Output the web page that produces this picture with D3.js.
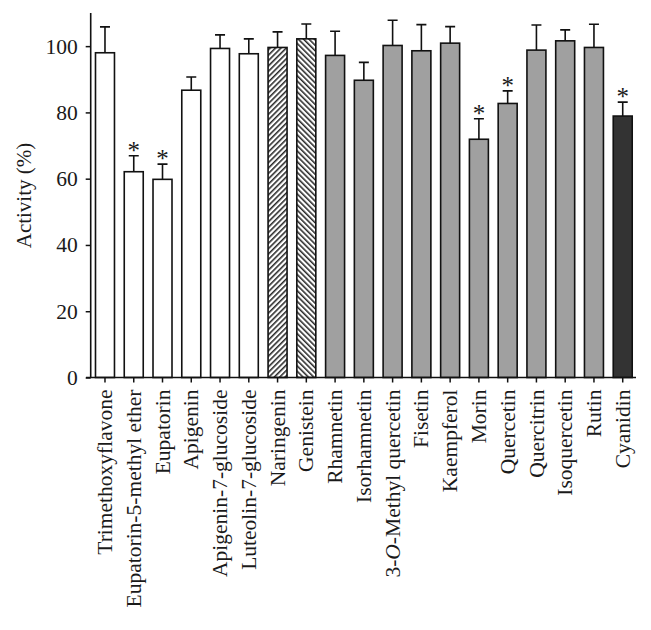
<!DOCTYPE html>
<html>
<head>
<meta charset="utf-8">
<script src="https://cdn.jsdelivr.net/npm/d3@7"></script>
<style>
  html, body { margin: 0; padding: 0; background: #fff; }
  svg { display: block; }
  text { font-family: "Liberation Serif", "DejaVu Serif", serif; fill: #1a1a1a; }
</style>
</head>
<body>
<svg id="chart" width="651" height="630"></svg>
<script>
const categories = ["Trimethoxyflavone", "Eupatorin-5-methyl ether", "Eupatorin", "Apigenin",
  "Apigenin-7-glucoside", "Luteolin-7-glucoside", "Naringenin", "Genistein", "Rhamnetin",
  "Isorhamnetin", "3-O-Methyl quercetin", "Fisetin", "Kaempferol", "Morin", "Quercetin",
  "Quercitrin", "Isoquercetin", "Rutin", "Cyanidin"];
const values = [98.0, 62.1, 59.8, 86.7, 99.3, 97.7, 99.6, 102.2, 97.2, 89.7, 100.2, 98.6,
  100.9, 71.9, 82.7, 98.8, 101.6, 99.6, 78.9];
const errors = [7.8, 4.8, 4.6, 4.0, 4.1, 4.5, 4.7, 4.5, 7.3, 5.4, 7.6, 7.9, 5.0, 6.2, 3.8,
  7.6, 3.3, 7.0, 4.2];
const significant = [false, true, true, false, false, false, false, false, false, false,
  false, false, false, true, true, false, false, false, true];
const groups = ["white", "white", "white", "white", "white", "white", "hatchA", "hatchB",
  "gray", "gray", "gray", "gray", "gray", "gray", "gray", "gray", "gray", "gray", "dark"];
const yTicks = [0, 20, 40, 60, 80, 100];
const yLabel = "Activity (%)";

const svg = d3.select("#chart");
const defs = svg.append("defs");

function hatch(id, dir) {
  const s = 3.8;
  const p = defs.append("pattern").attr("id", id).attr("patternUnits", "userSpaceOnUse")
    .attr("width", s).attr("height", s)
    .attr("patternTransform", `rotate(${dir})`);
  p.append("rect").attr("width", s).attr("height", s).attr("fill", "#fff");
  p.append("line").attr("x1", 0.8).attr("y1", 0).attr("x2", 0.8).attr("y2", s)
    .attr("stroke", "#111").attr("stroke-width", 1.4);
}
hatch("hatchA", 45);
hatch("hatchB", -45);

const fills = { white: "#ffffff", hatchA: "url(#hatchA)", hatchB: "url(#hatchB)", gray: "#a0a0a0", dark: "#333333" };

const axisX = 90.7;
const y = d3.scaleLinear().domain([0, 110]).range([377.5, 13]);
const x = d3.scaleBand().domain(categories).range([90.6, 637.1]).paddingInner(0.34).paddingOuter(0.17);

const g = svg.append("g");

// bars
g.selectAll("rect.bar").data(categories).enter().append("rect")
  .attr("class", "bar")
  .attr("x", d => x(d))
  .attr("y", (d, i) => y(values[i]))
  .attr("width", x.bandwidth())
  .attr("height", (d, i) => y(0) - y(values[i]))
  .attr("fill", (d, i) => fills[groups[i]])
  .attr("stroke", "#111")
  .attr("stroke-width", 1.6);

// error bars
const capW = 10;
g.selectAll("path.err").data(categories).enter().append("path")
  .attr("class", "err")
  .attr("d", (d, i) => {
    const cx = x(d) + x.bandwidth() / 2;
    const top = y(values[i] + errors[i]);
    return `M${cx},${y(values[i])}V${top}M${cx - capW / 2},${top}H${cx + capW / 2}`;
  })
  .attr("fill", "none").attr("stroke", "#111").attr("stroke-width", 1.6);

// asterisks
g.selectAll("text.sig").data(categories.filter((d, i) => significant[i])).enter().append("text")
  .attr("class", "sig")
  .attr("x", d => x(d) + x.bandwidth() / 2)
  .attr("y", d => { const i = categories.indexOf(d); return y(values[i] + errors[i]) + 3; })
  .attr("text-anchor", "middle")
  .attr("font-size", 25)
  .style("fill", "#1a1a1a")
  .text("*");

// y axis
const yAxis = d3.axisLeft(y).tickValues(yTicks).tickSize(5).tickPadding(8).tickSizeOuter(0);
const ya = svg.append("g").attr("transform", `translate(${axisX},0)`).call(yAxis);
ya.select(".domain").remove();
ya.selectAll(".tick line").attr("stroke", "#111").attr("stroke-width", 1.5);
ya.selectAll(".tick text").attr("font-size", 21.5).style("fill", "#1a1a1a");
svg.append("line").attr("x1", axisX).attr("x2", axisX).attr("y1", y(110)).attr("y2", y(0))
  .attr("stroke", "#111").attr("stroke-width", 1.6);

// x axis
const xAxis = d3.axisBottom(x).tickSize(5).tickPadding(8).tickSizeOuter(0);
const xa = svg.append("g").attr("transform", `translate(0,${y(0)})`).call(xAxis);
xa.select(".domain").remove();
xa.selectAll(".tick line").attr("stroke", "#111").attr("stroke-width", 1.5);
xa.selectAll(".tick text")
  .attr("font-size", 21.5).style("fill", "#1a1a1a")
  .attr("transform", "rotate(-90)")
  .attr("text-anchor", "end")
  .attr("x", -12).attr("y", 0).attr("dy", "0.33em")
  .each(function(d) {
    if (d === "3-O-Methyl quercetin") {
      const t = d3.select(this).text(null);
      t.append("tspan").text("3-");
      t.append("tspan").attr("font-style", "italic").text("O");
      t.append("tspan").text("-Methyl quercetin");
    }
  });
svg.append("line").attr("x1", 86).attr("x2", 636).attr("y1", y(0)).attr("y2", y(0))
  .attr("stroke", "#111").attr("stroke-width", 1.6);

// y label
svg.append("text")
  .attr("transform", `translate(31,${(143 + 248) / 2}) rotate(-90)`)
  .attr("text-anchor", "middle")
  .attr("font-size", 21)
  .style("fill", "#1a1a1a")
  .text(yLabel);
</script>
</body>
</html>
